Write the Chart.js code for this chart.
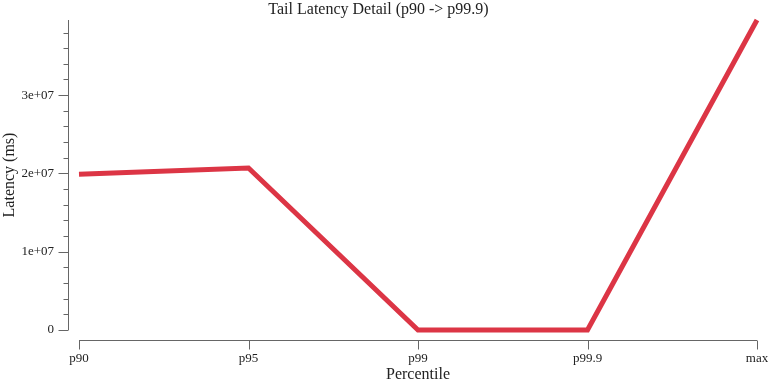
<!DOCTYPE html>
<html>
<head>
<meta charset="utf-8">
<title>Tail Latency Detail</title>
<script src="https://cdn.jsdelivr.net/npm/chart.js@4/dist/chart.umd.min.js"></script>
<style>
  html, body { margin: 0; padding: 0; background: #fff; }
  canvas { display: block; }
</style>
</head>
<body>
<canvas id="chart" width="768" height="384"></canvas>
<script>
// data
const percentiles = ["p90", "p95", "p99", "p99.9", "max"];
const latency = [1.99e7, 2.07e7, 0, 0, 3.96e7];
const majorStep = 1e7;
const minorStep = 2e6;

const axisColor = "#666";
const textColor = "#222";
const serif = "'Liberation Serif', 'Times New Roman', serif";

// d3-style detached axes, drawn from the chart's own scales
const offsetAxes = {
  id: "offsetAxes",
  afterDraw(chart) {
    const c = chart.ctx;
    const area = chart.chartArea;
    const x = chart.scales.x;
    const y = chart.scales.y;
    const ax = Math.round(area.left - 11) + 0.5;
    const ay = Math.round(area.bottom + 10) + 0.5;
    c.save();
    c.strokeStyle = axisColor;
    c.lineWidth = 1;
    c.beginPath();
    // y axis
    c.moveTo(ax, y.getPixelForValue(y.max));
    c.lineTo(ax, y.getPixelForValue(0));
    for (let v = 0; v <= y.max + 1; v += minorStep) {
      const py = Math.round(y.getPixelForValue(v)) + 0.5;
      const len = (v % majorStep === 0) ? 10 : 5;
      c.moveTo(ax - len, py);
      c.lineTo(ax, py);
    }
    // x axis
    c.moveTo(x.getPixelForValue(0), ay);
    c.lineTo(x.getPixelForValue(percentiles.length - 1), ay);
    percentiles.forEach((p, i) => {
      const px = Math.round(x.getPixelForValue(i)) + 0.5;
      c.moveTo(px, ay);
      c.lineTo(px, ay + 9);
    });
    c.stroke();
    c.restore();
  }
};

new Chart(document.getElementById("chart"), {
  type: "line",
  data: {
    labels: percentiles,
    datasets: [{
      data: latency,
      borderColor: "#dc3545",
      backgroundColor: "#dc3545",
      borderWidth: 5,
      pointRadius: 0,
      tension: 0,
      borderCapStyle: "butt",
      borderJoinStyle: "miter",
      clip: false
    }]
  },
  options: {
    responsive: false,
    animation: false,
    devicePixelRatio: 1,
    layout: { padding: { top: 0, right: 11, bottom: 0, left: 0 } },
    plugins: {
      legend: { display: false },
      tooltip: { enabled: false },
      title: {
        display: true,
        text: "Tail Latency Detail (p90 -> p99.9)",
        color: textColor,
        font: { family: serif, size: 16, weight: "normal", lineHeight: 1.25 },
        padding: 0
      }
    },
    scales: {
      x: {
        type: "category",
        offset: false,
        grid: { display: false },
        border: { display: false },
        ticks: {
          color: textColor,
          font: { family: serif, size: 13 },
          padding: 13,
          maxRotation: 0,
          autoSkip: false
        },
        title: {
          display: true,
          text: "Percentile",
          color: textColor,
          font: { family: serif, size: 16, lineHeight: 1.25 },
          padding: { top: 0, bottom: -1 }
        },
        afterFit(scale) {
          scale.height = 54;
          scale.paddingLeft = 0;
          scale.paddingRight = 0;
        }
      },
      y: {
        min: 0,
        max: Math.max(...latency),
        grid: { display: false },
        border: { display: false },
        afterBuildTicks(scale) {
          const ticks = [];
          for (let v = 0; v <= scale.max; v += majorStep) ticks.push({ value: v });
          scale.ticks = ticks;
        },
        ticks: {
          color: textColor,
          font: { family: serif, size: 13 },
          padding: 17,
          callback: (v) => v === 0 ? "0" : Number(v).toExponential().replace(/e\+(\d)$/, "e+0$1")
        },
        title: {
          display: true,
          text: "Latency (ms)",
          color: textColor,
          font: { family: serif, size: 16, lineHeight: 1.25 },
          padding: { top: 0, bottom: 0 }
        },
        afterFit(scale) {
          scale.width = 79;
          scale.paddingTop = 0;
          scale.paddingBottom = 0;
        }
      }
    }
  },
  plugins: [offsetAxes]
});
</script>
</body>
</html>
